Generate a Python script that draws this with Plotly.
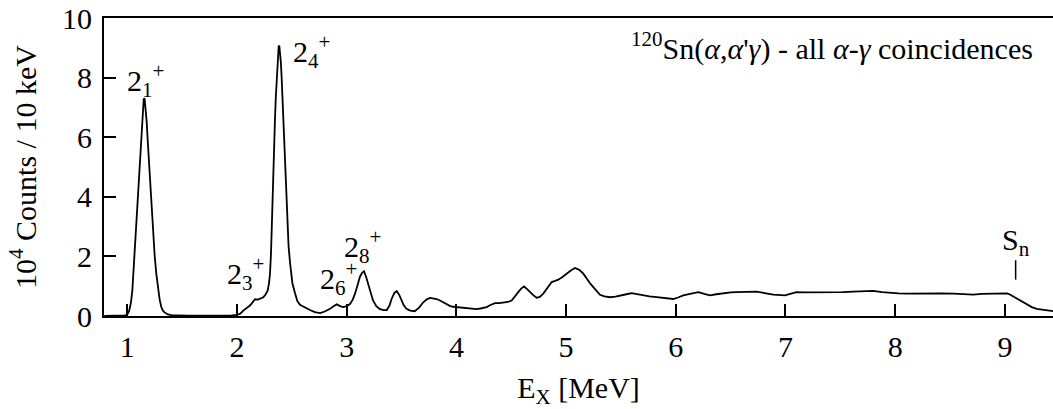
import plotly.graph_objects as go

# Excitation energy (MeV) and counts (10^4 / 10 keV)
energy = [0.79, 0.90, 0.95, 0.98, 1.00, 1.015, 1.025, 1.035, 1.046, 1.055, 1.064, 1.072, 1.079, 1.09, 1.10,
          1.108, 1.116, 1.125, 1.134, 1.142, 1.15, 1.158, 1.165, 1.171, 1.177, 1.186, 1.195, 1.201, 1.207,
          1.218, 1.23, 1.24, 1.25, 1.265, 1.28, 1.295, 1.31, 1.325, 1.34, 1.37, 1.40, 1.45, 1.55, 1.70, 1.85,
          1.95, 2.00, 2.03, 2.057, 2.09, 2.118, 2.14, 2.164, 2.19, 2.21, 2.24, 2.26, 2.28, 2.292, 2.301, 2.31,
          2.316, 2.324, 2.331, 2.339, 2.346, 2.354, 2.362, 2.371, 2.380, 2.386, 2.392, 2.40, 2.407, 2.415,
          2.422, 2.431, 2.440, 2.45, 2.459, 2.47, 2.484, 2.505, 2.529, 2.55, 2.574, 2.62, 2.665, 2.71, 2.757,
          2.80, 2.848, 2.88, 2.909, 2.94, 2.969, 3.00, 3.03, 3.055, 3.076, 3.10, 3.12, 3.14, 3.158, 3.178,
          3.197, 3.22, 3.24, 3.27, 3.30, 3.335, 3.365, 3.39, 3.41, 3.435, 3.456, 3.48, 3.50, 3.52, 3.545,
          3.58, 3.62, 3.66, 3.698, 3.73, 3.76, 3.79, 3.82, 3.85, 3.88, 3.91, 3.94, 3.97, 4.00, 4.05, 4.094,
          4.14, 4.185, 4.23, 4.276, 4.31, 4.352, 4.39, 4.428, 4.47, 4.504, 4.535, 4.564, 4.59, 4.616, 4.645,
          4.671, 4.70, 4.732, 4.76, 4.792, 4.83, 4.869, 4.90, 4.929, 4.97, 5.006, 5.04, 5.081, 5.12, 5.157,
          5.188, 5.218, 5.248, 5.28, 5.309, 5.35, 5.40, 5.45, 5.49, 5.55, 5.598, 5.65, 5.70, 5.76, 5.826,
          5.90, 5.977, 6.02, 6.068, 6.14, 6.205, 6.26, 6.312, 6.37, 6.433, 6.50, 6.555, 6.65, 6.737, 6.81,
          6.889, 6.995, 7.05, 7.10, 7.18, 7.253, 7.34, 7.436, 7.52, 7.618, 7.70, 7.80, 7.88, 7.953, 8.03,
          8.105, 8.21, 8.317, 8.42, 8.53, 8.62, 8.712, 8.79, 8.865, 8.93, 8.985, 9.02, 9.046, 9.075, 9.107,
          9.15, 9.198, 9.245, 9.29, 9.335, 9.38, 9.44, 9.47]

counts = [0.0, 0.0, 0.01, 0.02, 0.05, 0.15, 0.3, 0.5, 0.86, 1.4, 2.0, 2.55, 3.1, 3.65, 4.2,
          4.8, 5.35, 5.95, 6.5, 6.95, 7.3, 7.28, 7.05, 6.75, 6.5, 5.9, 5.35, 4.8, 4.2,
          3.6, 3.1, 2.5, 2.0, 1.4, 0.86, 0.55, 0.3, 0.18, 0.12, 0.05, 0.03, 0.02, 0.01, 0.01, 0.01,
          0.02, 0.04, 0.08, 0.18, 0.27, 0.35, 0.45, 0.56, 0.55, 0.58, 0.63, 0.72, 0.86, 1.1, 1.43, 2.1,
          3.0, 4.0, 4.9, 5.8, 6.58, 7.35, 8.04, 8.6, 9.05, 9.07, 8.9, 8.5, 8.0, 7.3,
          6.58, 5.7, 4.9, 3.9, 3.0, 2.35, 1.77, 1.1, 0.76, 0.5, 0.38, 0.28, 0.2, 0.13, 0.1,
          0.15, 0.24, 0.33, 0.39, 0.33, 0.3, 0.33, 0.4, 0.55, 0.75, 1.05, 1.31, 1.45, 1.5, 1.3,
          1.08, 0.75, 0.52, 0.33, 0.24, 0.2, 0.2, 0.35, 0.58, 0.78, 0.84, 0.7, 0.52, 0.36, 0.24,
          0.18, 0.16, 0.28, 0.46, 0.56, 0.61, 0.6, 0.57, 0.52, 0.46, 0.4, 0.34, 0.31, 0.3, 0.28, 0.27,
          0.25, 0.23, 0.26, 0.3, 0.37, 0.43, 0.43, 0.44, 0.47, 0.52, 0.65, 0.8, 0.92, 0.99, 0.9,
          0.8, 0.7, 0.61, 0.64, 0.75, 0.95, 1.14, 1.18, 1.22, 1.32, 1.44, 1.52, 1.61, 1.55, 1.42,
          1.25, 1.1, 0.97, 0.83, 0.71, 0.66, 0.63, 0.65, 0.69, 0.73, 0.77, 0.73, 0.69, 0.66, 0.63,
          0.6, 0.57, 0.62, 0.69, 0.75, 0.8, 0.74, 0.69, 0.73, 0.77, 0.79, 0.8, 0.81, 0.82, 0.77,
          0.72, 0.69, 0.74, 0.8, 0.79, 0.79, 0.79, 0.78, 0.8, 0.82, 0.83, 0.84, 0.8, 0.77, 0.76,
          0.75, 0.76, 0.77, 0.76, 0.75, 0.73, 0.72, 0.74, 0.75, 0.76, 0.78, 0.76, 0.72, 0.66, 0.58,
          0.48, 0.39, 0.3, 0.24, 0.21, 0.19, 0.16, 0.15]

# Peak labels: (text, E position, counts position)
label_texts = ["2<sub>1</sub><sup>+</sup>", "2<sub>4</sub><sup>+</sup>", "2<sub>3</sub><sup>+</sup>",
               "2<sub>6</sub><sup>+</sup>", "2<sub>8</sub><sup>+</sup>"]
label_x = [0.975, 2.49, 1.895, 2.735, 2.955]
label_y = [7.90, 8.86, 1.42, 1.26, 2.34]

# Neutron separation energy marker
sn_energy = 9.098
sn_tick_y = [1.22, 1.87]
sn_label_y = 2.5

x_ticks = [1, 2, 3, 4, 5, 6, 7, 8, 9]
y_ticks = [0, 2, 4, 6, 8, 10]

FONT = "Liberation Serif"
FS = 30

fig = go.Figure()
fig.add_trace(go.Scatter(x=energy, y=counts, mode="lines",
                         line=dict(color="black", width=1.8), showlegend=False,
                         hoverinfo="skip"))
fig.add_trace(go.Scatter(x=[sn_energy, sn_energy], y=sn_tick_y, mode="lines",
                         line=dict(color="black", width=1.5), showlegend=False,
                         hoverinfo="skip"))

for t, lx, ly in zip(label_texts, label_x, label_y):
    fig.add_annotation(x=lx, y=ly, xref="x", yref="y", text=t, showarrow=False,
                       xanchor="left", yanchor="middle",
                       font=dict(family=FONT, size=FS, color="black"))

fig.add_annotation(x=sn_energy, y=sn_label_y, xref="x", yref="y",
                   text="S<sub>n</sub>", showarrow=False, xanchor="center", yanchor="middle",
                   font=dict(family=FONT, size=FS, color="black"))

fig.add_annotation(x=0.981, y=0.903, xref="paper", yref="paper",
                   text="<sup>120</sup>Sn(<i>α</i>,<i>α</i>'<i>γ</i>) - all <i>α</i>-<i>γ</i> coincidences",
                   showarrow=False, xanchor="right", yanchor="middle",
                   font=dict(family=FONT, size=FS, color="black"))

fig.update_layout(
    width=1053, height=409,
    margin=dict(l=104, r=0, t=18, b=93),
    paper_bgcolor="white", plot_bgcolor="white",
    font=dict(family=FONT, size=FS, color="black"),
    xaxis=dict(range=[0.7876, 9.4386], tickvals=x_ticks, ticktext=[str(v) for v in x_ticks],
               ticks="inside", ticklen=12, tickwidth=1.5, tickcolor="black",
               showline=True, linewidth=2, linecolor="black", mirror=True,
               showgrid=False, zeroline=False, ticklabelstandoff=3,
               title=dict(text="E<sub>X</sub> [MeV]", font=dict(family=FONT, size=FS), standoff=15)),
    yaxis=dict(range=[0, 10], tickvals=y_ticks, ticktext=[str(v) for v in y_ticks],
               ticks="inside", ticklen=12, tickwidth=1.5, tickcolor="black",
               showline=True, linewidth=2, linecolor="black", mirror=False,
               showgrid=False, zeroline=False, ticklabelstandoff=4,
               title=dict(text="10<sup>4</sup> Counts / 10 keV", font=dict(family=FONT, size=FS), standoff=17)),
)

fig.write_html("out.html")
